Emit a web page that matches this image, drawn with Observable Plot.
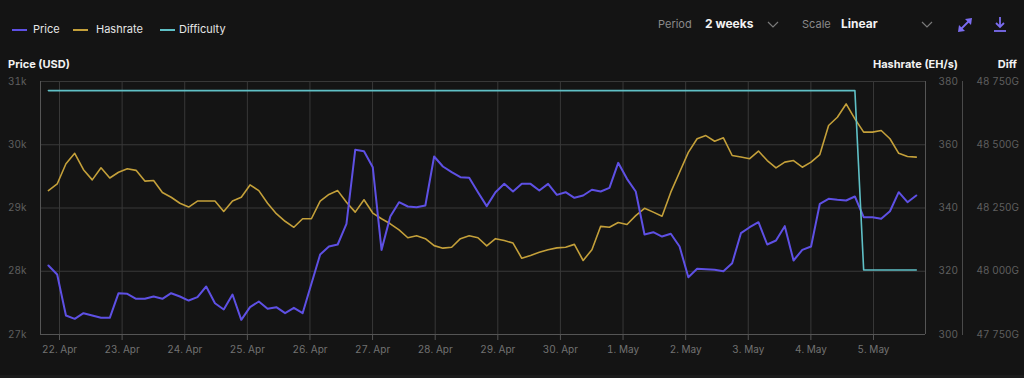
<!DOCTYPE html>
<html><head><meta charset="utf-8">
<script src="https://cdn.jsdelivr.net/npm/d3@7"></script>
<script src="https://cdn.jsdelivr.net/npm/@observablehq/plot@0.6"></script>
<style>
html,body{margin:0;padding:0;background:#141414;}
body{width:1024px;height:378px;overflow:hidden;position:relative;font-family:Inter,"Noto Sans",sans-serif;}
.abs{position:absolute;white-space:nowrap;line-height:1;}
#chart{position:absolute;left:0;top:60px;width:1024px;height:318px;}
#chart svg{position:absolute;left:0;top:0;}
.lg{font-size:11px;color:#e6e6e6;}
.seg{position:absolute;height:2px;width:15px;}
.gray{font-size:11px;color:#8a8a8a;}
.bold{font-size:12px;color:#f2f2f2;font-weight:700;}
.ttl{font-size:11px;color:#f2f2f2;font-weight:700;}
</style></head><body>
<!-- legend -->
<div class="seg" style="left:12px;top:29px;background:#5e50e4"></div>
<div class="abs lg" style="left:33px;top:24px">Price</div>
<div class="seg" style="left:73px;top:29px;background:#c4a03a"></div>
<div class="abs lg" style="left:96px;top:24px">Hashrate</div>
<div class="seg" style="left:160px;top:29px;background:#5fc0c6"></div>
<div class="abs lg" style="left:179px;top:24px">Difficulty</div>
<!-- controls -->
<div class="abs gray" style="left:658px;top:19px">Period</div>
<div class="abs bold" style="left:705px;top:18px">2 weeks</div>
<div class="abs gray" style="left:802px;top:19px">Scale</div>
<div class="abs bold" style="left:841px;top:18px">Linear</div>
<svg class="abs" style="left:0;top:0" width="1024" height="60">
  <polyline points="768,22 773,27 778,22" fill="none" stroke="#7a7a7a" stroke-width="1.2"/>
  <polyline points="922,22 927,27 932,22" fill="none" stroke="#7a7a7a" stroke-width="1.2"/>
  <g stroke="#7b6cf0" fill="#7b6cf0" stroke-width="1.8">
    <line x1="960" y1="30" x2="970" y2="20"/>
    <polygon points="972,18 965,19 971,25" stroke="none"/>
    <polygon points="958,32 965,31 959,25" stroke="none"/>
    <line x1="1000" y1="17" x2="1000" y2="27" />
    <polyline points="996,23 1000,27 1004,23" fill="none"/>
    <line x1="994" y1="31" x2="1006" y2="31"/>
  </g>
</svg>
<!-- axis titles -->
<div class="abs ttl" style="left:8px;top:59px">Price (USD)</div>
<div class="abs ttl" style="right:66px;top:59px">Hashrate (EH/s)</div>
<div class="abs ttl" style="right:7px;top:59px">Diff</div>
<div id="chart"></div>
<div class="abs" style="left:962px;top:81px;width:1px;height:254px;background:#4a4a4a"></div>
<div class="abs" style="left:0;top:375px;width:1024px;height:3px;background:#1b1b1b"></div>
<script>
// ---- data ----
const seriesStart = "2023-04-21T19:45:00Z";
const sampleHours = 3.36; // sampling interval of the source series
const price = [28091,27949,27300,27248,27337,27300,27264,27264,27653,27643,
27564,27564,27601,27564,27653,27601,27537,27590,27759,27495,
27395,27632,27232,27432,27522,27406,27432,27337,27422,27337,
27801,28265,28391,28423,28750,29920,29898,29645,28338,28866,
29092,29024,29013,29040,29814,29656,29566,29487,29477,29250,
29030,29250,29382,29261,29382,29382,29277,29382,29208,29250,
29161,29198,29288,29261,29319,29714,29461,29261,28581,28617,
28549,28592,28391,27906,28039,28033,28022,28001,28127,28602,
28696,28775,28423,28486,28713,28170,28338,28391,29066,29145,
29129,29119,29182,28855,28855,28829,28949,29250,29092,29198];
const hashrate = [345.5,347.6,354.0,357.3,352.1,348.9,352.7,349.5,351.3,352.4,
351.9,348.5,348.7,344.9,343.4,341.5,340.3,342.2,342.2,342.2,
338.9,342.2,343.4,347.3,345.5,341.5,338.2,335.8,333.9,336.6,
336.6,342.2,344.3,345.5,341.8,338.7,342.6,338.4,336.6,335.0,
333.1,330.6,331.2,330.3,328.1,327.3,327.6,330.3,331.2,330.6,
328.0,330.3,329.7,328.9,324.1,325.0,326.0,326.8,327.4,327.6,
328.5,323.4,326.8,334.2,333.9,335.4,334.8,337.6,339.9,338.7,
337.4,345.0,351.3,357.6,361.9,362.9,361.1,362.2,356.6,356.1,
355.6,358.0,355.0,352.7,354.5,355.0,352.9,354.5,356.9,366.1,
368.7,372.9,368.2,364.0,364.0,364.5,361.9,357.3,356.3,356.1];
const difficulty = [48714,48714,48714,48714,48714,48714,48714,48714,48714,48714,
48714,48714,48714,48714,48714,48714,48714,48714,48714,48714,
48714,48714,48714,48714,48714,48714,48714,48714,48714,48714,
48714,48714,48714,48714,48714,48714,48714,48714,48714,48714,
48714,48714,48714,48714,48714,48714,48714,48714,48714,48714,
48714,48714,48714,48714,48714,48714,48714,48714,48714,48714,
48714,48714,48714,48714,48714,48714,48714,48714,48714,48714,
48714,48714,48714,48714,48714,48714,48714,48714,48714,48714,
48714,48714,48714,48714,48714,48714,48714,48714,48714,48714,
48714,48714,48714,48005,48005,48005,48005,48005,48005,48005];
const dayTicks = ["2023-04-22","2023-04-23","2023-04-24","2023-04-25","2023-04-26","2023-04-27","2023-04-28",
"2023-04-29","2023-04-30","2023-05-01","2023-05-02","2023-05-03","2023-05-04","2023-05-05"];
const dayLabels = ["22. Apr","23. Apr","24. Apr","25. Apr","26. Apr","27. Apr","28. Apr",
"29. Apr","30. Apr","1. May","2. May","3. May","4. May","5. May"];
const priceTicks = [27000,28000,29000,30000,31000];
const priceLabels = ["27k","28k","29k","30k","31k"];
const hashTicks = [300,320,340,360,380];
const diffTicks = [47750,48000,48250,48500,48750];
const diffLabels = ["47 750G","48 000G","48 250G","48 500G","48 750G"];
const xDomain = ["2023-04-21T16:43:00Z","2023-05-05T19:56:00Z"];

// ---- build ----
const t0 = new Date(seriesStart).getTime();
const times = price.map((_, i) => new Date(t0 + i * sampleHours * 3600e3));
const rows = (vals) => vals.map((v, i) => ({t: times[i], v}));
const ticks = dayTicks.map(d => new Date(d + "T00:00:00Z"));
const labelOf = new Map(ticks.map((d, i) => [+d, dayLabels[i]]));
const xd = xDomain.map(d => new Date(d));

const base = {
  width: 1024, height: 318, marginLeft: 40, marginRight: 99, marginTop: 21, marginBottom: 44,
  x: {type: "utc", domain: xd, axis: null},
  style: {background: "transparent", color: "#6a6a6a", fontFamily: "Inter, 'Noto Sans', sans-serif", fontSize: "10px", overflow: "visible"}
};
const chart = document.getElementById("chart");

const pDomain = [priceTicks[0], priceTicks[priceTicks.length - 1]];
const pLab = new Map(priceTicks.map((d, i) => [d, priceLabels[i]]));
// grid, axes, frame
chart.append(Plot.plot({...base, y: {domain: pDomain, axis: null},
  marks: [
    Plot.gridY(priceTicks, {stroke: "#383838", strokeOpacity: 1}),
    Plot.gridX(ticks, {stroke: "#383838", strokeOpacity: 1}),
    Plot.ruleX([xd[0]], {stroke: "#555"}),
    Plot.ruleX([xd[1]], {stroke: "#555"}),
    Plot.ruleY([pDomain[0]], {stroke: "#555"}),
    Plot.axisY(priceTicks, {anchor: "left", tickSize: 0, tickPadding: 14, tickFormat: d => pLab.get(d), label: null, fill: "#5f5f5f"}),
    Plot.axisX(ticks, {anchor: "bottom", tickSize: 6, tickPadding: 5, stroke: "#555", fill: "#727272", tickFormat: d => labelOf.get(+d), label: null})
  ]}));
// hashrate
chart.append(Plot.plot({...base, y: {domain: [hashTicks[0], hashTicks[hashTicks.length - 1]], axis: null},
  marks: [
    Plot.axisY(hashTicks, {anchor: "right", tickSize: 0, tickPadding: 13, label: null, fill: "#5f5f5f"}),
    Plot.lineY(rows(hashrate), {x: "t", y: "v", stroke: "#c4a03a", strokeWidth: 1.6})
  ]}));
// price
chart.append(Plot.plot({...base, y: {domain: pDomain, axis: null},
  marks: [
    Plot.lineY(rows(price), {x: "t", y: "v", stroke: "#5e50e4", strokeWidth: 2})
  ]}));
// difficulty
const dLab = new Map(diffTicks.map((d, i) => [d, diffLabels[i]]));
chart.append(Plot.plot({...base, y: {domain: [diffTicks[0], diffTicks[diffTicks.length - 1]], axis: null},
  marks: [
    Plot.axisY(diffTicks, {anchor: "right", tickSize: 0, tickPadding: 51, tickFormat: d => dLab.get(d), label: null, fill: "#5f5f5f"}),
    Plot.lineY(rows(difficulty), {x: "t", y: "v", stroke: "#5fc0c6", strokeWidth: 1.6})
  ]}));
</script>
</body></html>
